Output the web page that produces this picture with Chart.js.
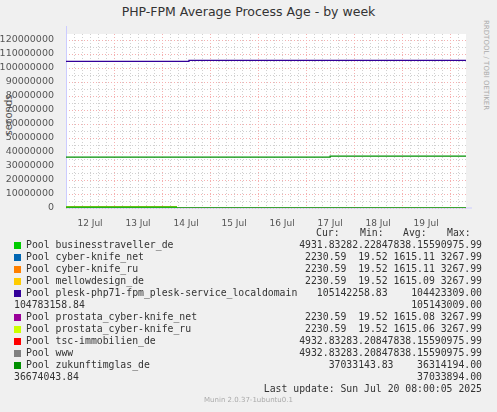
<!DOCTYPE html>
<html><head><meta charset="utf-8">
<script src="https://cdn.jsdelivr.net/npm/chart.js@4"></script>
<style>
body{margin:0;background:#f0f0f0;width:497px;height:412px;overflow:hidden;position:relative;font-family:"DejaVu Sans",sans-serif}
#c{position:absolute;left:0;top:0}
.t{position:absolute;white-space:pre;font-family:"DejaVu Sans Mono",monospace;font-size:9.8px;color:#333;line-height:12px}
.r{text-align:right}
.box{position:absolute;width:7px;height:7px}
</style></head><body>
<div style="position:absolute;top:4px;width:497px;text-align:center;font-size:12.5px;color:#333">PHP-FPM Average Process Age - by week</div>
<div style="position:absolute;left:3px;top:145px;transform:rotate(-90deg);transform-origin:0 0;font-size:10px;color:#555;width:60px;text-align:center">seconds</div>
<div style="position:absolute;left:490px;top:20px;transform:rotate(90deg);transform-origin:0 0;font-size:7px;color:#aaa;white-space:nowrap">RRDTOOL / TOBI OETIKER</div>
<canvas id="c" width="497" height="230"></canvas>
<div id="leg"></div>
<script>
const times = [0, 2.3, 2.56, 5.5, 6.4, 8.33];
const names = ["Pool businesstraveller_de","Pool cyber-knife_net","Pool cyber-knife_ru","Pool mellowdesign_de","Pool plesk-php71-fpm_plesk-service_localdomain","Pool prostata_cyber-knife_net","Pool prostata_cyber-knife_ru","Pool tsc-immobilien_de","Pool www","Pool zukunftimglas_de"];
const colors = ["#00cc00","#0066b3","#ff8000","#ffcc00","#330099","#990099","#ccff00","#ff0000","#808080","#008f00"];
const businesstraveller = [590000, 1000, 1000, 1000, 5000, 5000];
const cyberKnifeNet = [3000, 2000, 100, 100, 2200, 2200];
const cyberKnifeRu = [3000, 2000, 100, 100, 2200, 2200];
const mellowdesign = [3000, 2000, 100, 100, 2200, 2200];
const plesk = [104423309, 104423309, 105143009, 105143009, 105143009, 105142258];
const prostataNet = [3000, 2000, 100, 100, 2200, 2200];
const prostataRu = [590000, 3000, 100, 100, 300000, 300000];
const tsc = [590000, 1000, 1000, 1000, 5000, 5000];
const www = [590000, 1000, 1000, 1000, 5000, 5000];
const zukunft = [36314194, 36314194, 36314194, 37033894, 37033894, 37033143];
const series = [businesstraveller,cyberKnifeNet,cyberKnifeRu,mellowdesign,plesk,prostataNet,prostataRu,tsc,www,zukunft];
const dayLabels = ["12 Jul","13 Jul","14 Jul","15 Jul","16 Jul","17 Jul","18 Jul","19 Jul"];
const legendRows = [
 ["Pool businesstraveller_de","4931.83282.22847838.15590975.99"],
 ["Pool cyber-knife_net","2230.59  19.52 1615.11 3267.99"],
 ["Pool cyber-knife_ru","2230.59  19.52 1615.11 3267.99"],
 ["Pool mellowdesign_de","2230.59  19.52 1615.09 3267.99"],
 ["Pool plesk-php71-fpm_plesk-service_localdomain","105142258.83    104423309.00"],
 [null,"105143009.00","104783158.84"],
 ["Pool prostata_cyber-knife_net","2230.59  19.52 1615.08 3267.99"],
 ["Pool prostata_cyber-knife_ru","2230.59  19.52 1615.06 3267.99"],
 ["Pool tsc-immobilien_de","4932.83283.20847838.15590975.99"],
 ["Pool www","4932.83283.20847838.15590975.99"],
 ["Pool zukunftimglas_de","37033143.83    36314194.00"],
 [null,"37033894.00","36674043.84"]
];

const datasets = series.map((s,i)=>({label:names[i],data:s.map((v,j)=>({x:times[j],y:v})),borderColor:colors[i],borderWidth:1.2,pointRadius:0,stepped:'before',fill:false}));
const gridPlugin={id:'grid',beforeDatasetsDraw(ch){
 const c=ch.ctx,x=ch.scales.x,y=ch.scales.y,a=ch.chartArea;
 c.save();c.lineWidth=1;c.setLineDash([1,2]);
 for(let v=0;v<=124e6;v+=5e6){const p=Math.round(y.getPixelForValue(v))+0.5;c.strokeStyle=(v%1e7===0)?'#f5b0b0':'#d0d0d0';c.beginPath();c.moveTo(a.left,p);c.lineTo(a.right,p);c.stroke();}
 for(let k=0;k<=50;k++){const d=k/6;if(d>8.33)break;const p=Math.round(x.getPixelForValue(d))+0.5;c.strokeStyle=(k%6===0&&k>0)?'#f5b0b0':'#d0d0d0';c.beginPath();c.moveTo(p,a.top);c.lineTo(p,a.bottom);c.stroke();}
 c.setLineDash([]);c.strokeStyle='#ccccff';c.beginPath();c.moveTo(a.left+0.5,a.top-8);c.lineTo(a.left+0.5,a.bottom);c.lineTo(a.right+6,a.bottom);c.stroke();
 c.restore();}};
new Chart(document.getElementById('c'),{type:'line',data:{datasets},
 options:{responsive:false,animation:false,layout:{padding:{top:34,right:31,left:0,bottom:0}},
 plugins:{legend:{display:false},tooltip:{enabled:false}},
 scales:{
  x:{type:'linear',min:0,max:8.33,grid:{display:false},border:{display:false},
   afterBuildTicks(s){s.ticks=dayLabels.map((l,i)=>({value:i+0.5}));},
   afterFit(s){s.height=22;},
   ticks:{autoSkip:false,maxRotation:0,color:'#555',font:{family:'DejaVu Sans',size:9},padding:2,callback:(v)=>dayLabels[Math.floor(v)]}},
  y:{min:0,max:124e6,grid:{display:false},border:{display:false},
   afterBuildTicks(s){const t=[];for(let v=0;v<=120e6;v+=1e7)t.push({value:v});s.ticks=t;},
   afterFit(s){s.width=66;},
   ticks:{color:'#555',font:{family:'DejaVu Sans',size:9.5},padding:4,callback:v=>String(v)}}}},
 plugins:[gridPlugin,{id:'bg',beforeDraw(ch){const c=ch.ctx,a=ch.chartArea;c.save();c.fillStyle='#fff';c.fillRect(a.left,a.top,a.right-a.left,a.bottom-a.top);c.restore();}}]});

const leg=document.getElementById('leg');
let h='';
[['Cur:',316],['Min:',360],['Avg:',403],['Max:',447]].forEach(([t,x])=>h+=`<div class="t" style="left:${x}px;top:227px">${t}</div>`);
let ci=0;
legendRows.forEach((r,i)=>{const top=239+12*i;
 if(r[0]){h+=`<div class="box" style="left:14px;top:${top+3}px;background:${colors[ci++]}"></div><div class="t" style="left:26px;top:${top}px">${r[0]}</div>`;}
 else h+=`<div class="t" style="left:14px;top:${top}px">${r[2]}</div>`;
 h+=`<div class="t r" style="right:15px;top:${top}px">${r[1]}</div>`;});
h+=`<div class="t r" style="right:15px;top:383px">Last update: Sun Jul 20 08:00:05 2025</div>`;
h+=`<div style="position:absolute;top:396px;width:497px;text-align:center;font-size:7px;color:#aaa">Munin 2.0.37-1ubuntu0.1</div>`;
leg.innerHTML=h;
</script></body></html>
